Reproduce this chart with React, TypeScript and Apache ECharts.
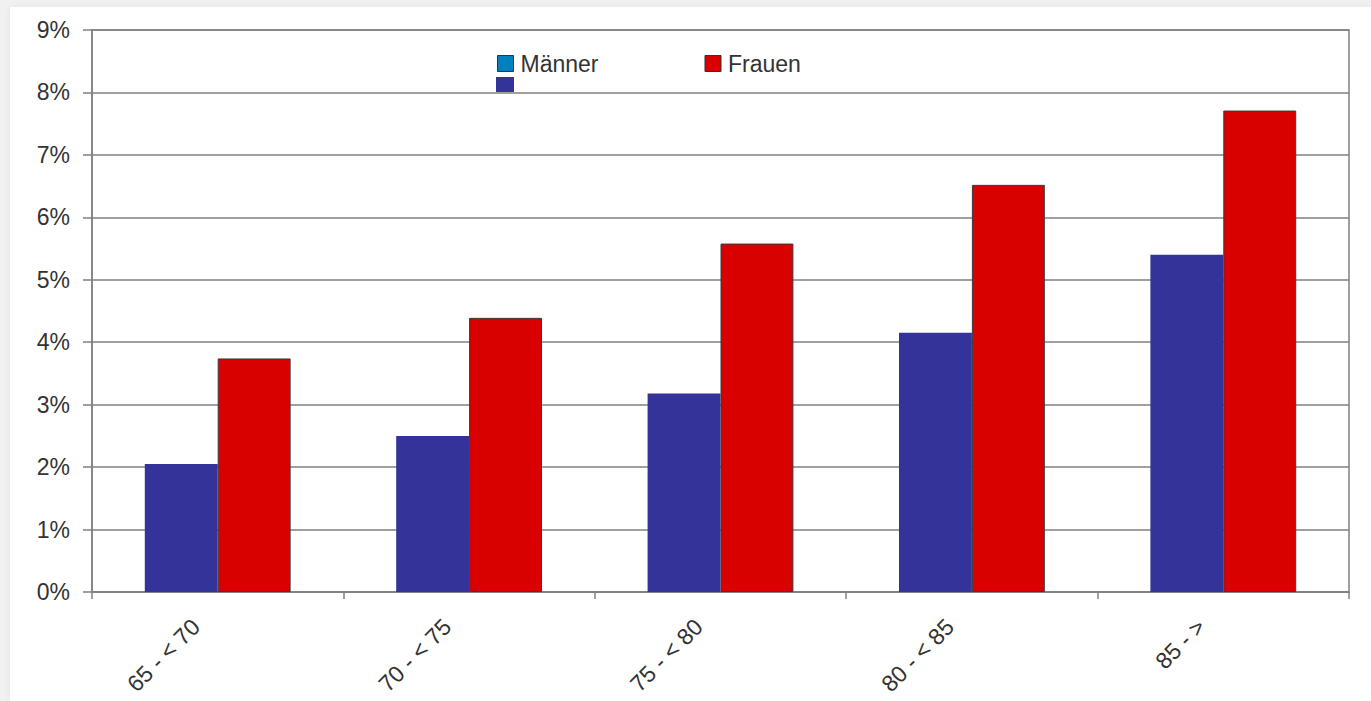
import React, { useEffect, useRef } from "react";
import * as echarts from "echarts";

// Age groups and shares (in percent) per sex
const categories = ["65 - < 70", "70 - < 75", "75 - < 80", "80 - < 85", "85 - >"];
const maenner = [2.05, 2.5, 3.18, 4.15, 5.4];
const frauen = [3.74, 4.39, 5.58, 6.52, 7.71];
const yMax = 9;
const yStep = 1;

const FONT = "'Liberation Sans', Arial, sans-serif";
const TEXT = "#333333";
const GRIDC = "#808080";

export default function App() {
  const ref = useRef<HTMLDivElement>(null);

  useEffect(() => {
    if (!ref.current) return;
    const chart = echarts.init(ref.current, undefined, { renderer: "svg" });
    chart.setOption({
      animation: false,
      backgroundColor: "transparent",
      textStyle: { fontFamily: FONT, color: TEXT },
      grid: {
        left: 92,
        right: 22,
        top: 30,
        bottom: 109,
        show: true,
        borderColor: GRIDC,
        borderWidth: 1.5,
        containLabel: false,
      },
      legend: {
        left: 497,
        top: 52,
        padding: 0,
        itemWidth: 16,
        itemHeight: 16,
        itemGap: 106,
        selectedMode: false,
        textStyle: { fontFamily: FONT, fontSize: 23, color: TEXT, padding: [0, 0, 0, 2] },
        data: [
          {
            name: "Männer",
            icon: "rect",
            itemStyle: { color: "#0080c0", borderColor: "#333", borderWidth: 1 },
          },
          {
            name: "Frauen",
            icon: "rect",
            itemStyle: { color: "#d90000", borderColor: "#333", borderWidth: 1 },
          },
        ],
      },
      xAxis: {
        type: "category",
        data: categories,
        axisLine: { lineStyle: { color: GRIDC, width: 1.5 } },
        axisTick: { show: true, length: 7, lineStyle: { color: GRIDC, width: 1.5 } },
        axisLabel: {
          rotate: 45,
          margin: 9,
          padding: [0, 31, 0, 0],
          fontFamily: FONT,
          fontSize: 23,
          color: TEXT,
        },
      },
      yAxis: {
        type: "value",
        min: 0,
        max: yMax,
        interval: yStep,
        axisLine: { show: true, lineStyle: { color: GRIDC, width: 1.5 } },
        axisTick: { show: true, length: 9, lineStyle: { color: GRIDC, width: 1.5 } },
        axisLabel: {
          formatter: "{value}%",
          margin: 22,
          fontFamily: FONT,
          fontSize: 23,
          color: TEXT,
        },
        splitLine: { show: true, lineStyle: { color: GRIDC, width: 1.5 } },
      },
      series: [
        {
          name: "Männer",
          type: "bar",
          data: maenner,
          barGap: "0%",
          barCategoryGap: "42%",
          itemStyle: { color: "#333399" },
        },
        {
          name: "Frauen",
          type: "bar",
          data: frauen,
          barGap: "0%",
          barCategoryGap: "42%",
          itemStyle: { color: "#d90000", borderColor: "#3a3a3a", borderWidth: 1 },
        },
      ],
      graphic: [
        {
          type: "rect",
          left: 496,
          top: 77,
          shape: { width: 18, height: 15 },
          style: { fill: "#333399" },
          z: 10,
        },
      ],
    });
    return () => chart.dispose();
  }, []);

  return (
    <div
      style={{
        position: "fixed",
        left: 0,
        top: 0,
        width: 1371,
        height: 701,
        background: "#f1f1f1",
        overflow: "hidden",
      }}
    >
      <div
        style={{
          position: "absolute",
          left: 10,
          top: 7,
          right: 0,
          bottom: 0,
          background: "#ffffff",
          boxShadow: "0 0 8px rgba(0,0,0,0.06)",
        }}
      />
      <div
        ref={ref}
        style={{ position: "absolute", left: 0, top: 0, width: 1371, height: 701 }}
      />
    </div>
  );
}
